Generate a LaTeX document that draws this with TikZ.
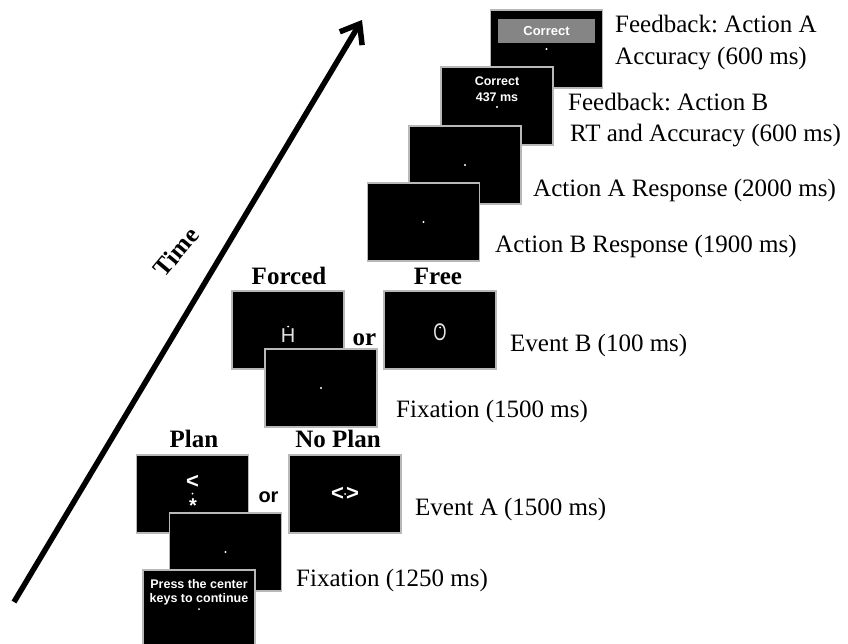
\documentclass[tikz,border=0pt]{standalone}
\usepackage{fontspec}
\setmainfont{Liberation Serif}
\newfontfamily\arialfont{Liberation Sans}
\usetikzlibrary{arrows.meta}
\frenchspacing

\begin{document}
\begin{tikzpicture}[x=1pt,y=-1pt,
  screen/.style={draw=black!28, line width=1.1pt, fill=black,
    minimum width=112pt, minimum height=78pt, inner sep=0pt, outer sep=0pt},
  fixdot/.style={circle, fill=white, inner sep=0pt, minimum size=2.4pt},
  caption/.style={font=\fontsize{25}{31}\selectfont, inner sep=0pt, anchor=base west},
  heading/.style={font=\fontsize{25}{31}\selectfont\bfseries, inner sep=0pt, anchor=base},
  scrtext/.style={font=\arialfont\bfseries\fontsize{12.5}{14.5}\selectfont,
    text=white, inner sep=0pt, anchor=base},
  stim/.style={font=\arialfont\bfseries\fontsize{22}{22}\selectfont, text=white, inner sep=0pt},
  letter/.style={font=\arialfont\fontsize{20}{20}\selectfont, text=black!10, inner sep=0pt},
  timearrow/.style={line width=5.5pt, -{Straight Barb[length=17pt,width=26pt]}},
]
\useasboundingbox (0,0) rectangle (848,644);

% time axis
\coordinate (t0) at (14,602);
\coordinate (t1) at (362,20);
\draw[timearrow] (t0) -- (t1);
\node[heading, anchor=center, rotate=50] (time) at (176,252) {Time};

% feedback for action A
\node[screen] (fbA) at (546.5,49) {};
\node[fill=black!48, minimum width=97pt, minimum height=24pt, inner sep=0pt] (fbAbar) at (546.5,31) {};
\node[scrtext, font=\arialfont\bfseries\fontsize{13}{15}\selectfont] (fbAtxt) at (546.5,35.5) {Correct};
\node[fixdot] (fbAdot) at (546.5,49) {};
\node[caption] (fbAcap) at (615,33) {Feedback: Action A};
\node[caption] (fbAcapb) at (615,65) {Accuracy (600 ms)};

% feedback for action B
\node[screen] (fbB) at (497,106) {};
\node[scrtext] (fbBtxt) at (497,86) {Correct};
\node[scrtext] (fbBrt) at (497,102) {437 ms};
\node[fixdot] (fbBdot) at (497,107) {};
\node[caption] (fbBcap) at (568,111) {Feedback: Action B};
\node[caption] (fbBcapb) at (570,142) {RT and Accuracy (600 ms)};

% response windows
\node[screen] (actA) at (465,165) {};
\node[fixdot] (actAdot) at (465,165) {};
\node[caption] (actAcap) at (533,197) {Action A Response (2000 ms)};

\node[screen] (actB) at (423.5,222) {};
\node[fixdot] (actBdot) at (423.5,222) {};
\node[caption] (actBcap) at (495,253) {Action B Response (1900 ms)};

% event B
\node[heading] (forcedh) at (289,284) {Forced};
\node[heading] (freeh) at (438,284) {Free};

\node[screen] (free) at (440,330) {};
\node[letter] (freeO) at (440,332) {\scalebox{0.85}[1.2]{O}};
\node[fixdot, minimum size=2pt] (freedot) at (440,327.5) {};

\node[screen] (forced) at (288,330) {};
\node[letter] (forcedH) at (288,336) {H};
\node[fixdot, minimum size=2pt] (forceddot) at (288,326.5) {};

\node[heading] (orB) at (364.5,345) {or};
\node[caption] (evBcap) at (510,351) {Event B (100 ms)};

\node[screen] (fix15) at (321,388) {};
\node[fixdot] (fix15dot) at (321,388) {};
\node[caption] (fix15cap) at (396,417) {Fixation (1500 ms)};

% event A
\node[heading] (planh) at (194,447) {Plan};
\node[heading] (noplanh) at (338,447) {No Plan};

\node[screen] (noplan) at (345,494) {};
\node[stim] (noplanl) at (337.5,493.5) {<};
\node[stim] (noplanr) at (352.5,493.5) {>};
\node[fixdot, minimum size=2pt] (noplandot) at (345,494) {};

\node[screen] (plan) at (192.5,494) {};
\node[stim] (planarrow) at (192.5,482) {<};
\node[fixdot, minimum size=2pt] (plandot) at (192.5,493.5) {};
\node[stim, font=\arialfont\bfseries\fontsize{20}{20}\selectfont] (planstar) at (193,505.5) {*};

\node[font=\arialfont\bfseries\fontsize{20}{20}\selectfont, inner sep=0pt, anchor=base] (orA) at (268.5,502) {or};
\node[caption] (evAcap) at (415,515) {Event A (1500 ms)};

\node[screen] (fix12) at (225.5,552) {};
\node[fixdot] (fix12dot) at (225.5,552) {};
\node[caption] (fix12cap) at (296,586) {Fixation (1250 ms)};

% start screen
\node[screen] (press) at (199,609) {};
\node[scrtext] (presstxt) at (199,588) {Press the center};
\node[scrtext] (presstxtb) at (199,602) {keys to continue};
\node[fixdot, minimum size=2pt] (pressdot) at (199,609) {};

\end{tikzpicture}
\end{document}
